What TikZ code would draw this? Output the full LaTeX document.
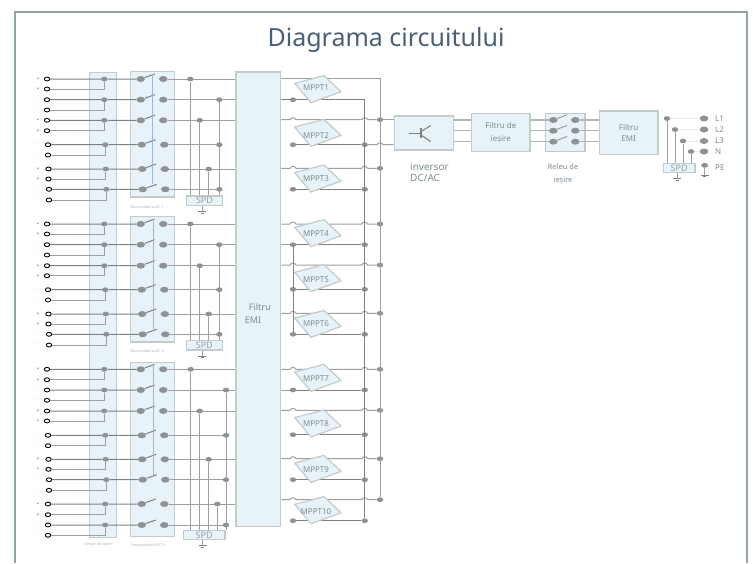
\documentclass[tikz,border=0pt]{standalone}
\usepackage{fontspec}
\setmainfont{Noto Sans}
\usetikzlibrary{shapes.geometric}
\definecolor{panelfill}{HTML}{E8F3F9}
\definecolor{panelline}{HTML}{C3CBCD}
\definecolor{labelgrey}{HTML}{7E8A93}
\definecolor{wiregrey}{HTML}{9E9E9E}
\definecolor{wiredark}{HTML}{808080}
\definecolor{dotgrey}{HTML}{8E9294}
\definecolor{linkblue}{HTML}{9DB8CF}
\definecolor{framegrey}{HTML}{8FA3A8}
\definecolor{titleblue}{HTML}{4A5F78}

\begin{document}
\begin{tikzpicture}[x=1pt,y=-1pt]
	\tikzstyle{wire}=[draw=wiregrey,line width=1pt]
	\tikzstyle{darkwire}=[draw=wiredark,line width=1pt]
	\tikzstyle{pale}=[draw=panelline!90!black,line width=1.4pt]
	\tikzstyle{linkline}=[draw=linkblue,line width=1pt]
	\tikzstyle{panel}=[draw=panelline,fill=panelfill,line width=1.2pt,inner sep=0pt]
	\tikzstyle{boxtext}=[text=labelgrey,font=\fontsize{8}{10}\selectfont,align=center,inner sep=0pt]
	\tikzstyle{spdbox}=[panel,text=labelgrey!80,font=\fontsize{9}{10}\selectfont]
	\tikzstyle{tiny}=[text=labelgrey!70,font=\fontsize{3.6}{4}\selectfont,inner sep=0pt]
	\tikzstyle{termnode}=[ellipse,draw=black,fill=white,line width=0.9pt,minimum width=5.4pt,minimum height=3.9pt,inner sep=0pt]
	\tikzstyle{dotnode}=[ellipse,fill=dotgrey,minimum width=6.5pt,minimum height=4.8pt,inner sep=0pt]
	\tikzstyle{contact}=[ellipse,fill=dotgrey,minimum width=8.5pt,minimum height=6pt,inner sep=0pt]
	\tikzstyle{mpptbody}=[draw=panelline,fill=panelfill,line width=1.2pt,line join=round]
	\useasboundingbox (0,0) rectangle (753,563);
	\draw[draw=framegrey,line width=1.3pt] (15,563) -- (15,12) -- (747,12) -- (747,563);
	\node[text=titleblue,font=\fontsize{25}{28}\selectfont,inner sep=0pt] (title) at (386,40) {Diagrama circuitului};

	% panels
	\node[panel,minimum width=27pt,minimum height=465.5pt] (sensor) at (102.8,305) {};
	\node[panel,minimum width=43.6pt,minimum height=125.3pt] (dc1) at (152.5,134.3) {};
	\node[panel,minimum width=43.6pt,minimum height=125.3pt] (dc2) at (152.5,279.3) {};
	\node[panel,minimum width=43.6pt,minimum height=174.4pt] (dc3) at (152.5,449.5) {};
	\node[panel,minimum width=44.7pt,minimum height=454.7pt] (emi) at (258.3,299.3) {};
	\node[boxtext,anchor=west,font=\fontsize{9}{10}\selectfont] (emia) at (248.7,306.7) {Filtru};
	\node[boxtext,anchor=west,font=\fontsize{9}{10}\selectfont] (emib) at (244.7,320.7) {EMI};
	\node[tiny] (dc1l) at (147.3,207) {Întrerupătorul DC 1};
	\node[tiny] (dc2l) at (147.3,351.3) {Întrerupătorul DC 2};
	\node[tiny] (dc3l) at (148,545) {Întrerupătorul DC 3};
	\node[tiny] (sensl) at (98.7,544.3) {Senzor de curent};

	% SPD boxes
	\node[spdbox,minimum width=35.6pt,minimum height=9.4pt] (spd1) at (204.5,200.7) {SPD\hspace{4pt}};
	\node[spdbox,minimum width=36pt,minimum height=9.6pt] (spd2) at (204.3,345.2) {SPD\hspace{4pt}};
	\node[spdbox,minimum width=41.7pt,minimum height=9pt] (spd3) at (204.2,534.8) {SPD};

	% input pairs
	\foreach \p/\ya/\yb/\dx in {1/79/89/0,2/99.7/110/0,3/120.3/130.7/0,4/144.7/155/1,5/169/179/1.5,6/189.3/200/2,
		7/224/234/0,8/244.7/255/0,9/265.7/275.7/0,10/289.7/300/1,11/314/324/1.5,12/334.3/345/2,
		13/369.3/379.7/0,14/390/400.3/0,15/411/421/0,16/435.3/445.7/1,17/459.3/469.3/1.5,18/479.7/490.3/2,19/504/514.7/1,20/525/535.3/1}{
		\ifodd\p\def\sgn{\textcolor{cyan!70!blue}{+}}\else\def\sgn{-}\fi
		\node[tiny,font=\fontsize{5}{5}\selectfont] (sg\p) at (38,\ya) {\sgn};
		\node[tiny,font=\fontsize{5}{5}\selectfont] (sh\p) at (38,\yb) {\sgn};
		\node[termnode] (ta\p) at (47+\dx,\ya) {};
		\node[termnode] (tb\p) at (47+\dx,\yb) {};
		\node[dotnode] (s\p) at (104.3+\dx,\ya) {};
		\node[contact] (c\p) at (140.7+\dx,\ya) {};
		\node[contact] (r\p) at (163.3+\dx,\ya) {};
		\coordinate (b\p) at (154.7+\dx,\ya-5);
		\draw[darkwire] (ta\p) -- (s\p) -- (c\p) -- (b\p);
		\draw[wire] (tb\p) -| (s\p);
	}
	\draw[linkline] (b1 -| 152.3,0) -- (b6 -| 152.3,0);
	\draw[linkline] (b7 -| 153,0) -- (b12 -| 153,0);
	\draw[linkline] (b13 -| 153,0) -- (b18 -| 153,0);

	% rows into the filter
	\foreach \p in {1,2,3,5,7,8,9,11,13,14,15,17,19}
		\draw[wire] (r\p) -- (r\p -| emi.west);
	\foreach \t/\p/\x/\s in {1/1/190.3/1,2/3/199.7/1,3/5/208.7/1,4/2/219.3/1,5/4/219.3/1,6/6/219.3/1,
		7/7/190.3/2,8/9/199.7/2,9/11/208.7/2,10/8/219.3/2,11/10/219.3/2,12/12/219.3/2,
		13/13/190.7/3,14/15/199.7/3,15/17/208.7/3,16/19/217.3/3,17/14/226/3,18/16/226/3,19/18/226/3,20/20/226/3}{
		\node[dotnode] (tap\t) at (r\p -| \x,0) {};
		\draw[wire] (r\p) -- (tap\t);
		\draw[wire] (tap\t) -- (tap\t |- spd\s.north);
	}
	\foreach \s/\gx in {1/202.3,2/202,3/202.7}{
		\coordinate (gnd\s) at (spd\s.south -| \gx,0);
		\draw[wire] (gnd\s) -- ++(0,5.5) coordinate (gb\s);
		\draw[darkwire] (gb\s) ++(-4,0) -- ++(8,0) ++(-5.5,1.6) -- ++(3,0);
	}

	% MPPT rows
	\coordinate (busa) at (380,78.3);
	\coordinate (busb) at (364.7,99.7);
	\draw[wire] (emi.east |- busa) -- (busa);
	\draw[darkwire] (emi.east |- busb) -- (busb);
	\foreach \m/\ya/\yb in {2/119.7/144.7,3/168.3/189.3,4/224/244.7,5/265/289.3,6/313.3/334.3,7/369.3/390,8/410.3/434.7,9/458.7/479.7,10/499.7/520.7}{
		\node[dotnode] (ja\m) at (380,\ya) {};
		\node[dotnode] (jb\m) at (364.7,\yb) {};
		\node[dotnode] (ls\m) at (293,\yb) {};
		\coordinate (ua\m) at (emi.east |- ja\m);
		\draw[wire] (ua\m) -- (290,\ya) .. controls (291.5,\ya-2.6) and (294.5,\ya-2.6) .. (296,\ya)
			-- (361.7,\ya) .. controls (363.2,\ya-2.6) and (366.2,\ya-2.6) .. (367.7,\ya) -- (ja\m);
		\draw[darkwire] (ls\m) -- (jb\m);
	}
	\node[dotnode] (ls1) at (293,99.7) {};
	\draw[wire] (busa) -- (ja10);
	\draw[darkwire] (busb) -- (jb10);
	\draw[wire] (emi.east |- ls4) -- (ls4);
	\draw[wire] (emi.east |- ls7) -- (ls7);
	\draw[darkwire] (ls4) -- (ls6);

	\foreach \m/\yc/\yt in {1/89/87.5,2/132.7/135.7,3/178.3/179,4/233/233.3,5/278/280,6/323.7/323.7,7/377.7/379,8/423.3/423.7,9/468.7/470,10/510/512}{
		\draw[mpptbody] (318,\yc) +(-23.3,-5.7) -- +(6,-13.3) -- +(23,2.7) -- +(-7,13.7) -- cycle;
		\node[boxtext] (mppt\m) at (316,\yt) {MPPT\m};
	}

	% output side
	\node[panel,minimum width=59pt,minimum height=34pt] (inv) at (423.8,133) {};
	\node[panel,minimum width=58.3pt,minimum height=38.4pt,boxtext] (ofilter) at (500.8,132.5) {Filtru de\\[3pt]ieșire};
	\node[panel,minimum width=39.7pt,minimum height=38.4pt] (relay) at (565.2,132.5) {};
	\node[panel,minimum width=58.7pt,minimum height=43.3pt,boxtext] (efilter) at (628.6,132.7) {Filtru\\[1pt]EMI};
	\draw[wire] (ja2) -- (ja2 -| inv.west);
	\draw[wire] (jb2) -- (377,144.7) .. controls (378.5,142.1) and (381.5,142.1) .. (383,144.7) -- (inv.west |- jb2);

	\draw[darkwire] (409,133.3) -- (420,133.3);
	\draw[darkwire,line width=1.2pt] (421,128) -- (421,138);
	\draw[darkwire] (421,131.5) -- (430,126) -- (430,125);
	\draw[darkwire] (421,135) -- (430,141) -- (430,142);

	\foreach \i/\y in {1/120,2/130.7,3/141.7}{
		\node[contact] (rl\i) at (553.3,\y) {};
		\node[contact] (rr\i) at (575.3,\y) {};
		\coordinate (rb\i) at (567.3,\y-5.3);
		\draw[wire] (rl\i) -- (rb\i);
		\draw[pale] (inv.east |- rl\i) -- (ofilter.west |- rl\i);
		\draw[pale] (ofilter.east |- rl\i) -- (rl\i);
		\draw[pale] (rr\i) -- (efilter.west |- rr\i);
	}
	\node[boxtext] (invl) at (410,172.5) [anchor=west,align=left,font=\fontsize{10}{11.6}\selectfont] {inversor\\DC/AC};
	\node[boxtext] (relayl) at (563,173.7) [font=\fontsize{7.5}{13}\selectfont] {Releu de\\ieșire};

	\node[spdbox,minimum width=31.7pt,minimum height=9.4pt] (spd4) at (679.2,168) {SPD\hspace{4pt}};
	\foreach \i/\x/\y/\l in {1/667/118.5/L1,2/675/129.5/L2,3/683/141/L3,4/691/151.5/N}{
		\node[dotnode] (od\i) at (\x,\y) {};
		\node[contact] (ot\i) at (704,\y) {};
		\node[boxtext] (ol\i) at (715,\y) [anchor=west] {\l};
		\draw[wire] (od\i) -- (od\i |- spd4.north);
		\draw[draw=black!8,line width=0.8pt] (od\i) -- (ot\i);
	}
	\node[contact,minimum width=7pt,minimum height=5pt] (ot5) at (704.7,165.3) {};
	\node[boxtext] (ol5) at (715,168) [anchor=west] {PE};
	\draw[wire] (ot5) -- ++(0,9.7) coordinate (gb5);
	\draw[darkwire] (gb5) ++(-4,0) -- ++(8,0) ++(-5.5,1.6) -- ++(3,0);
	\coordinate (gnd4) at (spd4.south -| 677.3,0);
	\draw[wire] (gnd4) -- ++(0,5.5) coordinate (gb4);
	\draw[darkwire] (gb4) ++(-4,0) -- ++(8,0) ++(-5.5,1.6) -- ++(3,0);
\end{tikzpicture}
\end{document}
